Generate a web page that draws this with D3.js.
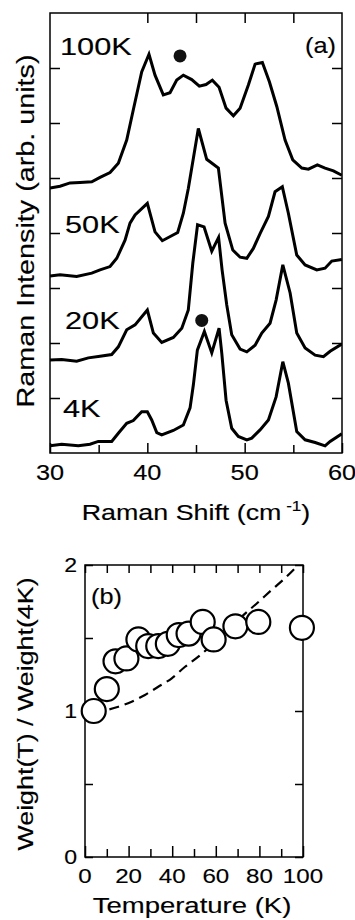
<!DOCTYPE html>
<html>
<head>
<meta charset="utf-8">
<script src="https://cdn.jsdelivr.net/npm/d3@7"></script>
<style>
  html, body { margin: 0; padding: 0; background: #fff; }
  svg { display: block; }
  text { font-family: "Liberation Sans", Arial, sans-serif; fill: #000; stroke: #000; stroke-width: 0.15px; }
</style>
</head>
<body>
<svg id="chart" width="355" height="920"></svg>
<script>
// ---------- Panel (a): Raman spectra (offset curves, axis units) ----------
const shift100K = [30.0,31.03,32.06,33.08,34.29,35.14,36.17,37.02,37.88,38.56,39.42,40.17,40.79,41.64,42.33,43.02,43.70,44.56,45.34,46.03,46.68,47.37,48.09,48.84,49.53,50.38,51.07,51.82,52.54,53.30,54.15,54.94,55.87,56.55,57.47,58.26,59.12,59.98];
const int100K   = [4.82,4.85,4.91,4.92,4.93,5.01,5.10,5.27,5.69,6.24,6.93,7.25,6.87,6.51,6.55,6.78,6.87,6.79,6.67,6.70,6.78,6.65,6.27,6.13,6.27,6.69,7.07,7.10,6.75,6.30,5.69,5.33,5.18,5.16,5.24,5.18,5.13,5.05];

const shift50K = [30.0,31.03,32.74,34.29,35.14,36.17,36.86,37.71,38.22,38.74,40.0,40.79,41.54,43.12,43.70,44.21,45.24,46.10,47.30,47.99,48.78,49.53,50.22,50.89,51.58,52.44,53.12,53.87,54.49,55.35,56.21,57.41,58.26,58.95,59.98];
const int50K   = [3.22,3.24,3.21,3.27,3.33,3.39,3.54,3.87,4.18,4.33,4.54,4.02,3.86,4.01,4.36,4.81,5.90,5.34,5.18,4.18,3.69,3.56,3.54,3.72,3.99,4.30,4.75,4.84,4.36,3.60,3.42,3.33,3.36,3.49,3.52];

const shift20K = [30.0,31.20,32.74,33.94,35.14,36.34,37.02,37.88,38.74,40.0,40.62,41.48,42.67,43.54,44.21,44.67,45.16,45.83,46.62,47.32,47.68,48.16,48.67,49.53,50.22,51.07,51.76,52.61,53.23,53.92,54.67,55.35,56.21,57.24,58.09,58.78,59.98];
const int20K   = [1.69,1.70,1.67,1.73,1.76,1.79,1.93,2.24,2.33,2.60,2.18,2.01,2.10,2.27,2.60,3.45,4.15,4.11,3.67,3.92,3.33,2.69,2.15,1.89,1.84,1.96,2.18,2.36,2.78,3.42,2.91,2.18,1.91,1.78,1.75,1.85,1.98];

const shift4K = [30.0,31.20,32.91,34.11,34.96,36.34,37.02,37.88,38.56,39.42,40.0,40.45,40.97,41.48,42.67,43.70,44.39,44.73,45.14,45.86,46.62,47.37,47.65,48.09,48.67,49.35,50.22,50.73,51.58,52.44,53.23,53.92,54.49,55.35,56.21,57.24,58.26,58.78,59.98];
const int4K   = [0.13,0.16,0.13,0.16,0.21,0.21,0.36,0.54,0.59,0.75,0.75,0.60,0.37,0.33,0.41,0.51,0.82,1.24,1.87,2.21,1.82,2.27,1.81,0.96,0.45,0.30,0.24,0.27,0.42,0.60,1.02,1.66,1.27,0.39,0.24,0.19,0.13,0.21,0.35];

const seriesLabels = ["100K","50K","20K","4K"];
const markerShift = [43.36, 45.59];
const markerInt   = [7.22, 2.41];

const xTicksA = [30,40,50,60];
const xMinorA = [35,45,55];
const yTicksA = [1,2,3,4,5,6,7];

// ---------- Panel (b): spectral weight ratio ----------
const tempK  = [4,10,14,19,24.5,29,33.6,38,43,47.5,54,59,69,79.5,99.5];
const weight = [1.0,1.15,1.34,1.36,1.49,1.445,1.445,1.46,1.52,1.53,1.61,1.49,1.58,1.61,1.57];
const dashT  = [4,9.95,15.3,21.4,27.5,33.6,39.8,45.9,52.0,57.3,64.2,71.9,78.9,85.6,91.7,96.3];
const dashW  = [0.99,1.007,1.029,1.064,1.11,1.166,1.224,1.303,1.372,1.44,1.532,1.646,1.738,1.829,1.909,1.977];
const xTicksB = [0,20,40,60,80,100];
const xMinorB = [10,30,50,70,90];
const yTicksB = [0,1,2];
const yMinorB = [0.5,1.5];

const svg = d3.select("#chart");

function label(sel, x, y, str, size, anchor, sx, rot) {
  const g = sel.append("g").attr("transform", `translate(${x},${y}) rotate(${rot||0}) scale(${sx},1)`);
  return g.append("text").attr("text-anchor", anchor).style("font-size", size + "px").text(str);
}

// ===== Panel (a) =====
const A = {l:50, r:342, t:13, b:453};
const xa = d3.scaleLinear().domain([30,60]).range([A.l, A.r]);
const ya = d3.scaleLinear().domain([0,8]).range([A.b, A.t]);

svg.append("defs").append("clipPath").attr("id","clipA")
  .append("rect").attr("x",A.l).attr("y",A.t).attr("width",A.r-A.l).attr("height",A.b-A.t);

const line = d3.line().x(d=>xa(d[0])).y(d=>ya(d[1]));
const spectra = [[shift100K,int100K],[shift50K,int50K],[shift20K,int20K],[shift4K,int4K]];
const gA = svg.append("g").attr("clip-path","url(#clipA)");
spectra.forEach(([xs,ys]) => {
  gA.append("path").datum(xs.map((x,i)=>[x,ys[i]]))
    .attr("d", line).attr("fill","none").attr("stroke","#000")
    .attr("stroke-width",3).attr("stroke-linejoin","miter");
});
markerShift.forEach((s,i) => {
  svg.append("circle").attr("cx",xa(s)).attr("cy",ya(markerInt[i])).attr("r",6.5).attr("fill","#111");
});

// axes (a)
const axA = svg.append("g");
axA.append("g").attr("transform",`translate(0,${A.b})`)
  .call(d3.axisBottom(xa).tickValues(xTicksA).tickSize(-10).tickFormat(""))
  .call(g=>g.select(".domain").remove());
axA.append("g").attr("transform",`translate(0,${A.b})`)
  .call(d3.axisBottom(xa).tickValues(xMinorA).tickSize(-8).tickFormat(""))
  .call(g=>g.select(".domain").remove());
axA.append("g").attr("transform",`translate(0,${A.t})`)
  .call(d3.axisTop(xa).tickValues([40,45,50,55]).tickSize(-10).tickFormat(""))
  .call(g=>g.select(".domain").remove());
axA.append("g").attr("transform",`translate(${A.l},0)`)
  .call(d3.axisLeft(ya).tickValues(yTicksA).tickSize(-10).tickFormat(""))
  .call(g=>g.select(".domain").remove());
axA.append("g").attr("transform",`translate(${A.r},0)`)
  .call(d3.axisRight(ya).tickValues(yTicksA).tickSize(-10).tickFormat(""))
  .call(g=>g.select(".domain").remove());
axA.selectAll("line").attr("stroke","#000").attr("stroke-width",1.5);
svg.append("rect").attr("x",A.l).attr("y",A.t).attr("width",A.r-A.l).attr("height",A.b-A.t)
  .attr("fill","none").attr("stroke","#000").attr("stroke-width",1.5);

xTicksA.forEach(v => label(svg, xa(v), 480, String(v), 22, "middle", 1.15));
// curve labels
const lblX = [60, 65, 65, 63];
const lblY = [55, 233, 329, 417];
seriesLabels.forEach((s,i) => label(svg, lblX[i], lblY[i], s, 24, "start", 1.28));
label(svg, 305, 53, "(a)", 22, "start", 1.15);

// x title with superscript
{
  const g = svg.append("g").attr("transform",`translate(196,520) scale(1.22,1)`);
  const t = g.append("text").attr("text-anchor","middle").style("font-size","22px");
  t.append("tspan").text("Raman Shift (cm");
  t.append("tspan").attr("dy",-9).style("font-size","14px").text(" -1");
  t.append("tspan").attr("dy",9).text(")");
}
label(svg, 34, 231, "Raman Intensity (arb. units)", 23, "middle", 1.25, -90);

// ===== Panel (b) =====
const B = {l:85, r:303, t:565, b:857};
const xb = d3.scaleLinear().domain([0,100]).range([B.l, B.r]);
const yb = d3.scaleLinear().domain([0,2]).range([B.b, B.t]);

const axB = svg.append("g");
axB.append("g").attr("transform",`translate(0,${B.b})`)
  .call(d3.axisBottom(xb).tickValues(xTicksB).tickSize(-11).tickFormat(""))
  .call(g=>g.select(".domain").remove());
axB.append("g").attr("transform",`translate(0,${B.b})`)
  .call(d3.axisBottom(xb).tickValues(xMinorB).tickSize(-8).tickFormat(""))
  .call(g=>g.select(".domain").remove());
axB.append("g").attr("transform",`translate(0,${B.t})`)
  .call(d3.axisTop(xb).tickValues(xTicksB.concat(xMinorB)).tickSize(-8).tickFormat(""))
  .call(g=>g.select(".domain").remove());
axB.append("g").attr("transform",`translate(${B.l},0)`)
  .call(d3.axisLeft(yb).tickValues(yTicksB.concat(yMinorB)).tickSize(-8).tickFormat(""))
  .call(g=>g.select(".domain").remove());
axB.append("g").attr("transform",`translate(${B.r},0)`)
  .call(d3.axisRight(yb).tickValues(yTicksB.concat(yMinorB)).tickSize(-8).tickFormat(""))
  .call(g=>g.select(".domain").remove());
axB.selectAll("line").attr("stroke","#000").attr("stroke-width",1.5);
svg.append("rect").attr("x",B.l).attr("y",B.t).attr("width",B.r-B.l).attr("height",B.b-B.t)
  .attr("fill","none").attr("stroke","#000").attr("stroke-width",1.5);

svg.append("path").datum(dashT.map((t,i)=>[t,dashW[i]]))
  .attr("d", d3.line().curve(d3.curveMonotoneX).x(d=>xb(d[0])).y(d=>yb(d[1])))
  .attr("fill","none").attr("stroke","#000").attr("stroke-width",2.2)
  .attr("stroke-dasharray","10,6");

svg.append("g").selectAll("circle").data(tempK.map((t,i)=>[t,weight[i]])).join("circle")
  .attr("cx",d=>xb(d[0])).attr("cy",d=>yb(d[1])).attr("r",12)
  .attr("fill","#fff").attr("stroke","#000").attr("stroke-width",2.2);

xTicksB.forEach(v => label(svg, xb(v), 883, String(v), 21, "middle", 1.15));
yTicksB.forEach(v => label(svg, 77, yb(v)+7, String(v), 21, "end", 1.1));
label(svg, 91, 604, "(b)", 22, "start", 1.15);
label(svg, 192, 913, "Temperature (K)", 22, "middle", 1.25);
label(svg, 33, 714, "Weight(T) / Weight(4K)", 22, "middle", 1.22, -90);
</script>
</body>
</html>
